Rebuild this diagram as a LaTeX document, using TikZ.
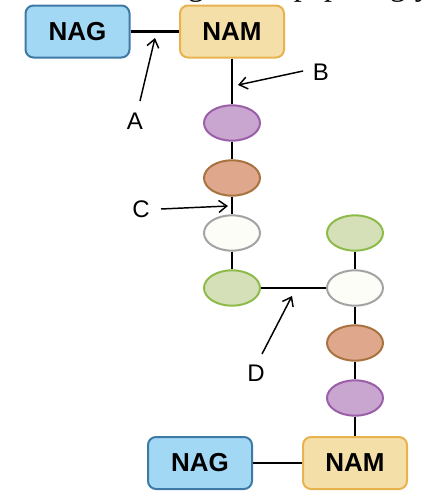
\documentclass[tikz,border=0pt]{standalone}
\usepackage{fontspec}
\setmainfont{Liberation Serif}
\setsansfont{Liberation Sans}
\usetikzlibrary{arrows.meta,shapes.geometric}
\definecolor{nagfill}{HTML}{A3D8F4}
\definecolor{nagline}{HTML}{3D7AA6}
\definecolor{namfill}{HTML}{F5DFA9}
\definecolor{namline}{HTML}{E8B34F}
\definecolor{purpfill}{HTML}{C9A6CF}
\definecolor{purpline}{HTML}{9B5EA8}
\definecolor{brwnfill}{HTML}{DFA88C}
\definecolor{brwnline}{HTML}{A8733F}
\definecolor{whtfill}{HTML}{FDFDF8}
\definecolor{whtline}{HTML}{A3A3A3}
\definecolor{grnfill}{HTML}{D5E0B8}
\definecolor{grnline}{HTML}{8DBB4A}
\begin{document}
\begin{tikzpicture}[x=0.75pt,y=-0.75pt,
    sugar/.style={draw,line width=1.5pt,rounded corners=6pt,minimum width=78pt,minimum height=39pt,font=\sffamily\bfseries\fontsize{19.5}{22}\selectfont},
    nag/.style={sugar,fill=nagfill,draw=nagline},
    nam/.style={sugar,fill=namfill,draw=namline},
    amino/.style={ellipse,draw,line width=1.5pt,minimum width=42pt,minimum height=26.5pt,inner sep=0pt},
    link/.style={line width=1.6pt},
    pointer/.style={line width=1.1pt,-{Straight Barb[length=6pt,width=9pt]}},
    letter/.style={font=\sffamily\fontsize{18}{20}\selectfont}]
        \useasboundingbox (0,0) rectangle (439,500);
        \node[anchor=base west,inner sep=0pt,font=\fontsize{24}{28}\selectfont] (title) at (92,-5) {Drawing of the peptidoglycan layer};

        % glycan strands
        \node[nag] (nag1) at (77.5,31.5) {NAG};
        \node[nam] (nam1) at (232,31.5) {NAM};
        \node[nag] (nag2) at (200,463) {NAG};
        \node[nam] (nam2) at (355,463) {NAM};

        % peptide chains
        \foreach \c [count=\i] in {purp,brwn,wht,grn}
            \node[amino,fill=\c fill,draw=\c line] (l\i) at (232,68+55*\i) {};
        \foreach \c [count=\i] in {grn,wht,brwn,purp}
            \node[amino,fill=\c fill,draw=\c line] (r\i) at (355,178+55*\i) {};

        \draw[link] (nag1) -- (nam1);
        \draw[link] (nag2) -- (nam2);
        \draw[link] (nam1) -- (l1) -- (l2) -- (l3) -- (l4);
        \draw[link] (r1) -- (r2) -- (r3) -- (r4) -- (nam2);
        \draw[link] (l4) -- (r2);

        % labels
        \node[letter] (labA) at (135,121) {A};
        \node[letter] (labB) at (321,72) {B};
        \node[letter] (labC) at (141,209) {C};
        \node[letter] (labD) at (256,373) {D};
        \coordinate (tailA) at (140,101);
        \coordinate (tipA) at (155,38);
        \coordinate (tailB) at (303,71);
        \coordinate (tipB) at (238,85);
        \coordinate (tailC) at (161,209);
        \coordinate (tipC) at (228,206);
        \coordinate (tailD) at (262,354);
        \coordinate (tipD) at (292,296);
        \foreach \l in {A,B,C,D}
            \draw[pointer] (tail\l) -- (tip\l);
\end{tikzpicture}
\end{document}
